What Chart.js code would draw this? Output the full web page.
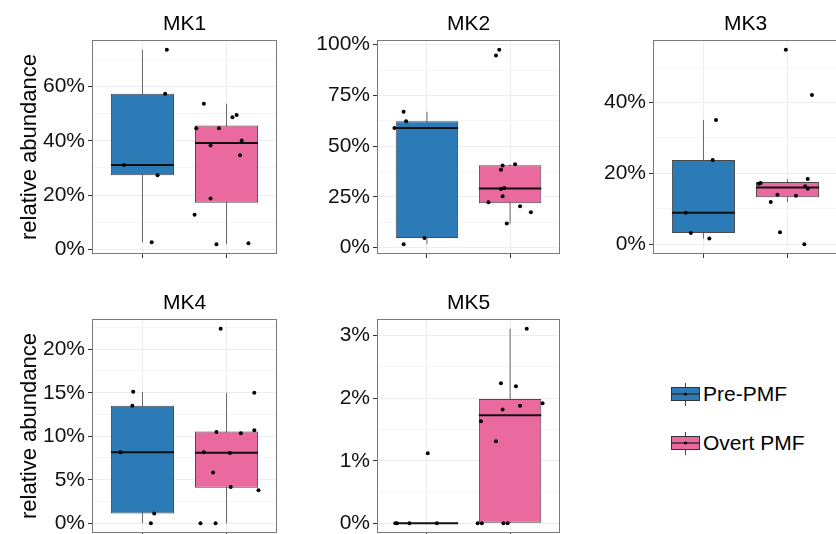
<!DOCTYPE html>
<html>
<head>
<meta charset="utf-8">
<script src="https://cdn.jsdelivr.net/npm/chart.js@4.4.1/dist/chart.umd.min.js"></script>
<style>
  html, body { margin: 0; padding: 0; background: #fff; overflow: hidden; width: 836px; height: 534px; }
  body { position: relative; font-family: "Liberation Sans", Arial, sans-serif; color: #000; }
  canvas.panel { position: absolute; }
  .title { position: absolute; font-size: 21px; line-height: 21px; white-space: nowrap; transform: translate(-50%, -50%); }
  .ytitle { position: absolute; font-size: 22px; line-height: 22px; white-space: nowrap; transform: translate(-50%, -50%) rotate(-90deg); }
  .key { position: absolute; }
  .keytext { position: absolute; font-size: 21px; line-height: 21px; white-space: nowrap; transform: translateY(-50%); }
</style>
</head>
<body>
<script>
// Groups and panels
const groups = ['Pre-PMF', 'Overt PMF'];
const markers = ['MK1', 'MK2', 'MK3', 'MK4', 'MK5'];

// Relative abundance (%) per sample, with the horizontal jitter of each dot
const mk1Pre = [2.6, 31.1, 27.3, 57.4, 73.6];
const mk1PreJitter = [0.11, -0.22, 0.18, 0.27, 0.29];
const mk1Overt = [53.7, 44.6, 44.6, 38.3, 40.1, 48.7, 49.5, 34.7, 18.7, 12.7, 1.85, 2.2];
const mk1OvertJitter = [-0.27, -0.36, -0.09, -0.19, 0.18, 0.07, 0.12, 0.16, -0.19, -0.38, -0.12, 0.26];

const mk2Pre = [1.6, 4.7, 58.9, 62.3, 66.9];
const mk2PreJitter = [-0.28, -0.03, -0.39, -0.25, -0.28];
const mk2Overt = [97.5, 94.7, 41.1, 40.4, 38.3, 29.4, 28.9, 25.3, 22.3, 20.4, 17.4, 11.8];
const mk2OvertJitter = [-0.13, -0.17, 0.06, -0.09, -0.11, -0.07, -0.11, -0.09, -0.26, 0.12, 0.25, -0.04];

const mk3Pre = [35.1, 23.8, 8.9, 3.2, 1.6];
const mk3PreJitter = [0.15, 0.11, -0.21, -0.15, 0.07];
const mk3Overt = [54.9, 42.1, 18.4, 17.3, 17.1, 16.4, 15.7, 14.0, 13.7, 11.9, 3.4, 0];
const mk3OvertJitter = [-0.02, 0.29, 0.24, -0.32, -0.34, 0.21, 0.24, -0.12, 0.10, -0.20, -0.09, 0.20];

const mk4Pre = [15.1, 13.5, 8.15, 1.12, 0];
const mk4PreJitter = [-0.11, -0.12, -0.26, 0.14, 0.10];
const mk4Overt = [22.35, 15.0, 10.7, 10.48, 10.33, 8.15, 8.06, 5.84, 4.18, 3.8, 0, 0];
const mk4OvertJitter = [-0.07, 0.33, 0.33, -0.12, 0.17, -0.27, 0.04, -0.16, 0.05, 0.38, -0.31, -0.13];

const mk5Pre = [0, 0, 0, 0, 1.12];
const mk5PreJitter = [-0.38, -0.36, -0.21, 0.12, 0.01];
const mk5Overt = [3.11, 2.24, 2.19, 1.92, 1.88, 1.82, 1.63, 1.31, 0, 0, 0, 0];
const mk5OvertJitter = [0.20, -0.11, 0.07, 0.39, 0.12, -0.09, -0.35, -0.17, -0.39, -0.34, -0.08, -0.03];

// Y-axis tick values (%)
const mk1Ticks = [0, 20, 40, 60];
const mk2Ticks = [0, 25, 50, 75, 100];
const mk3Ticks = [0, 20, 40];
const mk4Ticks = [0, 5, 10, 15, 20];
const mk5Ticks = [0, 1, 2, 3];

const panelData = {
  MK1: { series: [[mk1Pre, mk1PreJitter], [mk1Overt, mk1OvertJitter]], ticks: mk1Ticks },
  MK2: { series: [[mk2Pre, mk2PreJitter], [mk2Overt, mk2OvertJitter]], ticks: mk2Ticks },
  MK3: { series: [[mk3Pre, mk3PreJitter], [mk3Overt, mk3OvertJitter]], ticks: mk3Ticks },
  MK4: { series: [[mk4Pre, mk4PreJitter], [mk4Overt, mk4OvertJitter]], ticks: mk4Ticks },
  MK5: { series: [[mk5Pre, mk5PreJitter], [mk5Overt, mk5OvertJitter]], ticks: mk5Ticks }
};

// Page layout: plotting area of each facet, in page pixels
const panelLayout = {
  MK1: { left: 92,  top: 40,  width: 185, height: 214, yTitle: true },
  MK2: { left: 377, top: 40,  width: 183, height: 214, yTitle: false },
  MK3: { left: 653, top: 40,  width: 185, height: 214, yTitle: false },
  MK4: { left: 92,  top: 319, width: 185, height: 214, yTitle: true },
  MK5: { left: 377, top: 319, width: 183, height: 214, yTitle: false }
};

const fills = ['#2c7bb6', '#ea6aa0'];
const FONT = 'Liberation Sans';

Chart.defaults.font.family = FONT;
Chart.defaults.color = '#111';

// Tukey box statistics (type-7 quantiles, 1.5 IQR whiskers)
function boxStats(values) {
  const s = [...values].sort((a, b) => a - b);
  const q = p => {
    const h = (s.length - 1) * p, i = Math.floor(h);
    const next = i + 1 < s.length ? s[i + 1] : s[i];
    return s[i] + (h - i) * (next - s[i]);
  };
  const q1 = q(0.25), med = q(0.5), q3 = q(0.75), iqr = q3 - q1;
  const lo = Math.min(...s.filter(v => v >= q1 - 1.5 * iqr));
  const hi = Math.max(...s.filter(v => v <= q3 + 1.5 * iqr));
  return { q1, med, q3, lo, hi };
}

// Frame around each plotting area
const panelBorder = {
  id: 'panelBorder',
  afterDatasetsDraw(chart) {
    const { ctx, chartArea: a } = chart;
    ctx.save();
    ctx.strokeStyle = '#7a7a7a';
    ctx.lineWidth = 1;
    ctx.strokeRect(Math.round(a.left) + 0.5, Math.round(a.top) + 0.5,
                   Math.round(a.right - a.left) - 1, Math.round(a.bottom - a.top) - 1);
    ctx.restore();
  }
};

function makePanel(name) {
  const d = panelData[name];
  const L = panelLayout[name];
  const YW = 62, PT = 16, PR = 4, XH = 6, PB = 12;

  const cv = document.createElement('canvas');
  cv.className = 'panel';
  cv.width = YW + L.width + PR;
  cv.height = PT + L.height + XH + PB;
  cv.style.left = (L.left - YW) + 'px';
  cv.style.top = (L.top - PT) + 'px';
  document.body.appendChild(cv);

  const all = d.series.flatMap(([v]) => v);
  const dMin = Math.min(...all), dMax = Math.max(...all);
  const pad = (dMax - dMin) * 0.05;

  const stats = d.series.map(([v]) => boxStats(v));
  const datasets = [];

  datasets.push({
    type: 'bar',
    data: stats.map((s, i) => ({ x: i + 1, y: [s.q1, s.q3] })),
    backgroundColor: fills,
    borderColor: '#4a4a4a',
    borderWidth: 1,
    borderSkipped: false,
    barPercentage: 0.75,
    categoryPercentage: 1,
    order: 2
  });
  stats.forEach((s, i) => {
    datasets.push({
      type: 'line',
      data: [{ x: i + 1, y: s.lo }, { x: i + 1, y: s.hi }],
      borderColor: '#666', borderWidth: 1, pointRadius: 0, fill: false, order: 3
    });
    datasets.push({
      type: 'line',
      data: [{ x: i + 1 - 0.375, y: s.med }, { x: i + 1 + 0.375, y: s.med }],
      borderColor: '#111', borderWidth: 2, pointRadius: 0, fill: false, order: 1
    });
  });
  datasets.push({
    type: 'scatter',
    data: d.series.flatMap(([v, j], gi) => v.map((y, k) => ({ x: gi + 1 + j[k], y }))),
    pointRadius: 2, backgroundColor: '#000', borderWidth: 0, order: 0
  });

  const major = d.ticks;
  const step = major[1] - major[0];

  new Chart(cv, {
    type: 'bar',
    data: { datasets },
    plugins: [panelBorder],
    options: {
      responsive: false,
      animation: false,
      events: [],
      devicePixelRatio: 1,
      layout: { padding: { left: 0, top: PT, right: PR, bottom: PB } },
      plugins: { legend: { display: false }, tooltip: { enabled: false }, title: { display: false } },
      scales: {
        x: {
          type: 'linear', min: 0.4, max: 2.6, offset: false,
          afterBuildTicks: sc => { sc.ticks = groups.map((g, i) => ({ value: i + 1 })); },
          afterFit: sc => { sc.height = XH; },
          ticks: { display: true, autoSkip: false, callback: () => '' },
          grid: { offset: false, color: '#ededed', lineWidth: 1, tickColor: '#333', tickLength: 4, tickWidth: 1 },
          border: { display: false }
        },
        y: {
          type: 'linear', min: dMin - pad, max: dMax + pad,
          afterBuildTicks: sc => {
            const t = [];
            major.forEach((v, i) => {
              t.push({ value: v, minor: false });
              const m = v + step / 2;
              if (m <= sc.max) t.push({ value: m, minor: true });
            });
            const below = major[0] - step / 2;
            if (below >= sc.min) t.unshift({ value: below, minor: true });
            sc.ticks = t;
          },
          afterFit: sc => { sc.width = YW; },
          ticks: {
            autoSkip: false, padding: 3, color: '#111',
            font: { family: FONT, size: 21 },
            callback: (v, i, t) => (t[i].minor ? '' : v + '%')
          },
          grid: {
            color: c => (c.tick && c.tick.minor ? '#f5f5f5' : '#ededed'),
            lineWidth: 1,
            tickColor: c => (c.tick && c.tick.minor ? 'rgba(0,0,0,0)' : '#333'),
            tickLength: 4, tickWidth: 1
          },
          border: { display: false }
        }
      }
    }
  });

  const t = document.createElement('div');
  t.className = 'title';
  t.textContent = name;
  t.style.left = (L.left + L.width / 2) + 'px';
  t.style.top = (L.top - 18) + 'px';
  document.body.appendChild(t);

  if (L.yTitle) {
    const y = document.createElement('div');
    y.className = 'ytitle';
    y.textContent = 'relative abundance';
    y.style.left = '28.5px';
    y.style.top = (L.top + L.height / 2) + 'px';
    document.body.appendChild(y);
  }
}

markers.forEach(makePanel);

// Legend: boxplot key glyph plus group name
const legendTop = [383, 432];
groups.forEach((g, i) => {
  const k = document.createElement('canvas');
  k.className = 'key';
  k.width = 30; k.height = 23;
  k.style.left = '670px';
  k.style.top = legendTop[i] + 'px';
  document.body.appendChild(k);
  const c = k.getContext('2d');
  c.strokeStyle = '#444';
  c.lineWidth = 1;
  c.beginPath();
  c.moveTo(15.5, 0); c.lineTo(15.5, 4.5);
  c.moveTo(15.5, 17.5); c.lineTo(15.5, 23);
  c.stroke();
  c.fillStyle = fills[i];
  c.fillRect(1.5, 4.5, 28, 13);
  c.strokeStyle = '#333';
  c.strokeRect(1.5, 4.5, 28, 13);
  c.lineWidth = 1.5;
  c.beginPath();
  c.moveTo(1.5, 11); c.lineTo(29.5, 11);
  c.stroke();
  c.fillStyle = '#000';
  c.beginPath();
  c.arc(15.5, 11, 1.6, 0, Math.PI * 2);
  c.fill();

  const tx = document.createElement('div');
  tx.className = 'keytext';
  tx.textContent = g;
  tx.style.left = '703px';
  tx.style.top = (legendTop[i] + 10) + 'px';
  document.body.appendChild(tx);
});
</script>
</body>
</html>
